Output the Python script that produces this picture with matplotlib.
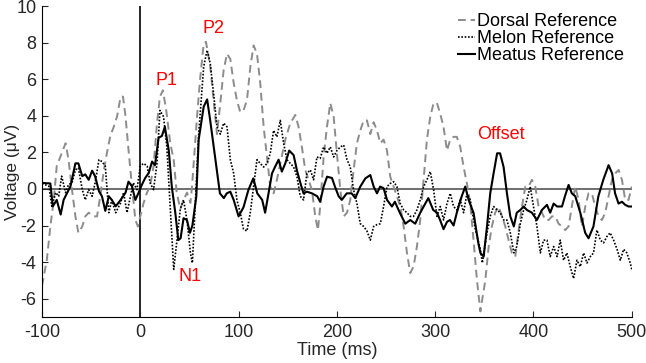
import matplotlib
matplotlib.use("Agg")
import matplotlib.pyplot as plt

plt.rcParams['font.family'] = 'Liberation Sans'
plt.rcParams['axes.unicode_minus'] = False

### data (time in ms, voltage in uV)
dorsal_t = [-100, -95, -91.5, -88, -85, -81, -76, -73, -69.5, -66, -63, -59, -56, -52.5, -47.5, -44,
            -40.7, -37, -34, -30.5, -27, -23.7, -20, -17.6, -15, -12, -8.5, -5, -2.4, 0, 3.4, 6.8, 10,
            13.5, 17, 20, 23, 26.4, 30.5, 34, 37, 40.7, 44, 47.5, 51, 52.6, 57.7, 61, 64.5, 66.8, 71.2,
            74.6, 78, 81.4, 84.8, 88.2, 91.6, 95, 98.3, 101.7, 105, 108.5, 112, 115.3, 118.7, 122,
            125.5, 128.9, 132.2, 135.6, 139, 142.4, 147.5, 152.6, 157.7, 161, 164.4, 167.8, 171.2,
            174.6, 178, 180.7, 183, 186.5, 189.9, 193.3, 196.7, 200, 203.5, 206.9, 210.3, 213.6, 217,
            220.4, 223.8, 227.2, 230.6, 234, 237.4, 240.8, 244.2, 247.5, 251, 254.3, 257.7, 261,
            264.5, 267.9, 271.3, 274.6, 278, 281.4, 284.8, 288.2, 291.6, 295, 298.4, 301.8, 305.2,
            308.5, 312, 315.3, 318.7, 322, 325.5, 328.9, 332.3, 335.7, 339, 342.5, 346, 348, 351,
            354.4, 357.7, 361, 364.5, 368, 371.3, 374.7, 378, 381.5, 384.9, 388.3, 391.7, 395, 398.4,
            401.8, 405.2, 408.6, 412, 415.4, 418.8, 422.2, 425.5, 429, 432.3, 435.7, 439, 442.5,
            445.9, 449.3, 452.7, 456, 459.4, 462.8, 466.2, 469.6, 473, 476.4, 479.8, 483.2, 486.6,
            490, 493.3, 496.7, 500]
dorsal_v = [-5.3, -3.85, -2.05, -0.6, 1.25, 1.8, 2.5, 1.6, -0.04, -1.5, -2.4, -2.05, -1.5, -1.3, -1.5,
            -1.5, -0.4, 1.05, 1.95, 2.9, 3.4, 3.95, 5.05, 5.05, 3.95, 2.15, 0.15, -1.7, -2.05, -1.5,
            -0.76, -0.2, 0.15, 1.25, 3.6, 5.05, 5.4, 4.3, 2.5, 1.6, -0.2, -1.1, -0.6, -0.2, -0.76,
            0.13, 3.95, 6.1, 7.95, 8.05, 6.7, 4.85, 3.0, 4.7, 6.5, 7.4, 7.1, 5.8, 4.85, 4.2, 4.3, 4.85,
            6.7, 7.85, 7.4, 5.8, 3.4, 1.75, 0.13, -0.24, 0.5, 1.4, 2.7, 3.6, 4.05, 3.4, 2.3, 1.04, 0.5,
            -0.05, -1.5, -2.25, -0.96, 1.75, 3.4, 4.7, 3.95, 1.95, -0.05, -1.5, -1.3, -0.6, 1.04, 2.5,
            3.2, 3.75, 3.75, 3.0, 3.65, 3.2, 2.5, 2.7, 2.1, 0.67, 0.13, -0.4, -0.96, -2.05, -3.5, -4.6,
            -4.25, -3.15, -1.7, 0.5, 2.7, 3.95, 4.7, 4.7, 4.1, 3.4, 2.1, 2.7, 2.85, 2.85, 2.3, 1.2, 0.3,
            -0.8, -2.8, -5.0, -6.7, -6.0, -5.0, -3.15, -2.05, -1.3, -0.96, -1.5, -2.05, -2.8, -3.5,
            -3.7, -2.25, -0.96, 0.13, 0.13, 0.5, 0.13, -0.96, -1.3, -1.7, -1.7, -1.5, -1.5, -1.9,
            -2.05, -2.25, -2.05, -0.96, 0.13, -0.6, -2.05, -0.96, -0.24, -0.24, -0.96, -1.5, -1.7,
            -1.3, -0.4, 0.5, 0.85, 1.04, 0.5, -0.6, -0.6, 0.13]

melon_t = [-100, -93, -90, -86, -83, -80, -76, -73, -69.5, -66, -63, -59, -56, -52.5, -49, -46, -42,
           -39, -35.6, -32, -29, -25, -20, -17, -13.5, -10, -7, -3.4, 0, 3.4, 7, 10, 13.5, 17, 20,
           23.7, 27, 30.5, 34, 37, 40.7, 44, 47.5, 51, 53, 59.4, 64.5, 68, 71.2, 74.6, 78, 81.4, 84.8,
           88.2, 91.6, 95, 98.3, 101.7, 105, 108.5, 111.9, 115.3, 118.7, 122, 125.5, 129, 132.2,
           135.6, 139, 142.4, 145.8, 149.2, 152.6, 156, 159.4, 162.7, 166.1, 169.5, 173, 176.3,
           179.7, 183, 186.5, 189.9, 193.3, 196.7, 200, 203.5, 206.9, 210.3, 213.6, 217, 220.4,
           223.8, 227.2, 230.6, 234, 237.4, 240.8, 244.2, 247.5, 251, 254.3, 257.7, 261, 264.5,
           267.9, 271.3, 274.6, 278, 281.4, 284.8, 288.2, 291.6, 295, 298.4, 301.8, 305.2, 308.5,
           312, 315.3, 318.7, 322, 325.5, 328.9, 332.3, 335.7, 340.8, 345.9, 348, 352.7, 356, 359.4,
           363, 366.2, 369.6, 373, 376.4, 380, 383, 386.6, 390, 393.3, 396.7, 400, 403.5, 407,
           410.3, 413.7, 417, 420.5, 424, 427.2, 430.6, 434, 437.4, 440.8, 444.2, 447.6, 451, 454.4,
           457.8, 461.1, 464.5, 468, 471.3, 474.7, 478, 481.5, 485, 488.3, 491.7, 495, 498.4, 500]
melon_v = [0.3, 0.15, -0.95, -0.2, -0.4, 0.7, -0.2, 0.24, 0.33, 1.05, 1.15, -0.04, -0.6, -0.04, -0.4,
           0.33, 1.6, 1.5, 1.25, -1.3, -0.6, -1.3, -0.76, -0.2, -1.3, -0.4, 0.33, -0.04, 1.25, 1.4,
           1.25, 0.33, -0.04, 1.4, 4.3, 3.95, 2.3, -1.1, -4.4, -2.95, -1.1, -0.6, -1.7, -3.5, -4.05,
           3.0, 6.7, 7.6, 6.85, 5.2, 3.4, 3.0, 3.6, 3.4, 1.6, 0.85, -0.6, -1.3, -2.2, -2.3, -1.3,
           0.13, 1.6, 1.4, 1.2, 1.4, 1.95, 3.2, 2.85, 3.75, 2.5, 1.6, 1.4, 1.2, 0.67, -0.4, -0.6,
           0.85, 1.04, 0.5, 1.75, 1.67, 2.3, 1.95, 2.3, 1.75, 2.1, 2.3, 2.4, 1.6, 1.2, -0.05, -0.8,
           -1.9, -2.05, -2.3, -2.8, -2.05, -1.95, -1.9, -0.96, 0.13, 0.3, 0.4, 0.13, -0.8, -1.15,
           -1.3, -1.5, -1.5, -1.15, -0.6, 0.13, 0.5, 0.95, -0.05, -1.5, -0.96, -1.7, -0.8, -0.24,
           -0.96, -1.15, -0.6, -1.3, -0.24, -0.6, -2.2, -3.3, -4.05, -2.4, -1.5, -0.96, -1.15, -1.3,
           -1.7, -1.7, -2.4, -3.5, -3.15, -1.9, -1.15, -0.6, 0.13, -0.96, -2.05, -3.5, -2.8, -2.8,
           -3.7, -3.15, -3.7, -2.8, -3.9, -3.5, -4.25, -4.9, -3.9, -4.25, -3.5, -4.05, -3.7, -3.5,
           -2.25, -2.8, -2.95, -2.6, -2.4, -2.8, -3.3, -3.9, -3.3, -3.5, -4.05, -4.4]

meatus_t = [-100, -91.5, -89, -85, -81, -78, -71, -66, -63, -59, -56, -52.5, -49, -46, -42, -39, -35.6,
            -32, -29, -25, -20, -15, -12, -8.5, -5, -1.7, 1.7, 5, 8.5, 12, 15, 18.6, 22, 25, 29, 32,
            35.6, 38.7, 41, 44, 47.5, 50.5, 53, 57, 59.4, 64.5, 68, 71, 76, 81, 85, 88, 91.6, 95, 100,
            105, 110, 115, 119, 124, 127, 130.5, 134, 137, 140.7, 144, 147.5, 151.5, 156, 159.4, 163,
            166, 169.5, 174.6, 180, 183, 186.5, 190, 195, 198, 201.8, 205, 210, 215, 218.7, 223.8,
            229, 234, 237.4, 240.8, 244, 247.5, 251, 256, 259, 264, 269.6, 274.6, 279.7, 284.8, 290,
            293, 298, 301.8, 305, 308.5, 312, 315, 318.7, 322, 327, 330.6, 334, 339, 344, 346, 349.3,
            352.7, 356, 359.4, 363, 366, 369.6, 373, 376.4, 380, 383, 386.6, 390, 393.3, 398.4,
            403.5, 408.6, 413.7, 417, 420.5, 424, 429, 432, 435.7, 439, 442.5, 447.6, 452.6, 456,
            461, 466, 471, 476.4, 480, 483, 486.5, 490, 493.3, 496.7, 500]
meatus_v = [0.33, 0.3, -0.95, -0.6, -1.4, -0.6, 0.15, 1.4, 1.4, 0.7, 0.8, 0.5, 1.0, 0.7, -0.13, -0.4,
            -1.2, -0.4, -0.6, -0.95, -0.6, -0.2, 0.4, 0.15, -0.6, -0.2, 0.24, 0.6, 0.87, 1.5, 1.3, 2.8,
            2.9, 3.4, 2.1, 0.15, -1.3, -2.8, -2.7, -1.6, -1.7, -2.4, -2.0, -0.4, 2.7, 4.5, 4.9, 3.8,
            1.76, -0.24, -0.5, -0.24, -0.15, -0.6, -1.5, -1.0, -0.05, 0.58, -0.24, -0.6, -1.3, -0.24,
            0.85, 1.2, 1.6, 0.95, 1.4, 2.1, 1.85, 1.0, 0.3, -0.24, -0.15, -0.24, -0.4, -0.7, 0.13,
            0.67, 0.6, 0.13, -0.4, -0.6, -0.24, -0.24, -0.5, 0.13, 0.58, 0.76, 0.13, -0.24, 0.13,
            0.04, -0.6, -0.96, -0.7, -1.3, -1.9, -1.7, -1.9, -1.3, -0.8, -0.5, -1.15, -1.3, -1.7,
            -2.2, -1.8, -1.7, -2.0, -1.3, -0.4, 0.13, -0.6, -1.3, -3.0, -3.5, -3.7, -2.05, -0.24,
            0.85, 1.95, 1.95, 1.2, -0.24, -1.5, -2.05, -1.3, -1.15, -0.96, -1.15, -1.3, -1.7, -1.15,
            -0.87, -1.3, -0.8, -0.96, -0.96, -0.4, 0.22, -0.24, -0.4, -1.3, -2.4, -2.7, -2.05, -0.4,
            0.5, 1.3, 0.85, -0.24, -0.8, -0.7, -0.87, -0.96, -0.96]

peak_labels = ['P1', 'P2', 'N1', 'Offset']
peak_t = [26.5, 74, 51, 366.7]
peak_v = [5.95, 8.8, -4.8, 3.0]

fs = 13

fig = plt.figure(figsize=(6.46, 3.63), dpi=100)
ax = fig.add_axes([0.065, 0.127, 0.913, 0.856])

ax.axhline(0, color='#555555', lw=1.2, zorder=1)
ax.axvline(0, color='black', lw=1.2, zorder=1)

ax.plot(dorsal_t, dorsal_v, color='#8c8c8c', lw=1.4, dashes=(4, 2.5), label='Dorsal Reference')
ax.plot(melon_t, melon_v, color='black', lw=1.2, dashes=(1, 1), label='Melon Reference')
ax.plot(meatus_t, meatus_v, color='black', lw=1.5, label='Meatus Reference')

for lab, x, y in zip(peak_labels, peak_t, peak_v):
    ax.text(x, y, lab, color='red', fontsize=fs, ha='center', va='center')

ax.set_xlim(-100, 500)
ax.set_ylim(-7, 10)
ax.set_xticks(range(-100, 501, 100))
ax.set_yticks(range(-6, 11, 2))
ax.tick_params(direction='in', labelsize=fs, colors='#262626', length=4, pad=5)
ax.tick_params(axis='y', pad=4)
ax.spines['top'].set_visible(False)
ax.spines['right'].set_visible(False)
ax.set_xlabel('Time (ms)', fontsize=fs, color='#262626', labelpad=1)
ax.set_ylabel('Voltage (μV)', fontsize=12.5, color='#262626')
ax.yaxis.set_label_coords(-0.037, 0.466)

ax.legend(loc='upper right', bbox_to_anchor=(0.966, 0.963), bbox_transform=fig.transFigure,
          frameon=False, fontsize=fs, handlelength=0.95, handletextpad=0.1, labelspacing=0.0,
          borderpad=0, borderaxespad=0)

fig.savefig('out.png', dpi=100)
